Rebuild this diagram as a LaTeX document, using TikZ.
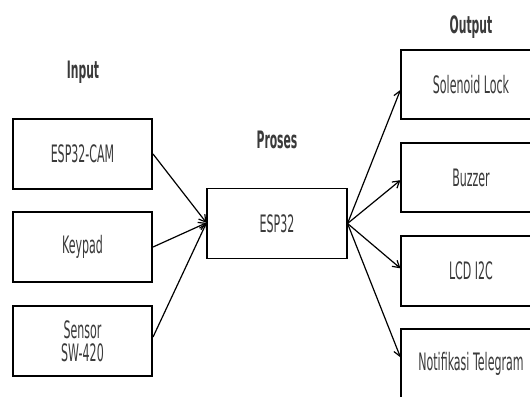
\documentclass[tikz,border=0pt]{standalone}
\usepackage{fontspec}
\setmainfont{DejaVu Sans}
\newfontfamily\boxfont[FakeStretch=0.46]{DejaVu Sans}
\newfontfamily\labfont[FakeStretch=0.45]{DejaVu Sans Bold}
\usetikzlibrary{arrows.meta}
\definecolor{txt}{HTML}{3A3A3A}
\tikzset{
  blk/.style={draw=black, line width=1.3pt, fill=white, minimum width=104.5pt,
    minimum height=52.5pt, inner sep=0pt, align=center, text=txt,
    font=\boxfont\fontsize{18}{17.5}\selectfont},
  ttl/.style={anchor=base, text=txt, inner sep=0pt, font=\labfont\fontsize{18}{17.5}\selectfont},
  conn/.style={draw=black, line width=0.9pt, -{Straight Barb[length=5pt,width=6pt]}}
}
\begin{document}
\begin{tikzpicture}[x=0.75pt, y=-0.75pt]
\useasboundingbox (0,0) rectangle (530,396);
\clip (0,0) rectangle (530,396);
% titles
\node[ttl] (tin) at (83,78) {Input};
\node[ttl] (tpr) at (277,148) {Proses};
\node[ttl] (tout) at (471,33) {Output};
% input boxes
\node[blk] (cam) at (82.5,154) {ESP32-CAM};
\node[blk] (key) at (82.5,247) {Keypad};
\node[blk] (sen) at (82.5,341) {Sensor\\SW-420};
% process
\node[blk] (esp) at (277,223.5) {ESP32};
% outputs
\node[blk, minimum height=51.75pt] (sol) at (471,84.5) {Solenoid Lock};
\node[blk, minimum height=51.75pt] (buz) at (471,177.5) {Buzzer};
\node[blk] (lcd) at (471,271) {LCD I2C};
\node[blk] (tel) at (471,364) {Notifikasi Telegram};
% connectors
\draw[conn] (cam.east) -- ([yshift=0.5pt]esp.west);
\draw[conn] (key.east) -- ([yshift=0.5pt]esp.west);
\draw[conn] ([yshift=3pt]sen.east) -- ([yshift=0.5pt]esp.west);
\draw[conn] (esp.east) -- ([yshift=-4pt]sol.west);
\draw[conn] (esp.east) -- ([yshift=-2pt]buz.west);
\draw[conn] (esp.east) -- ([yshift=2pt]lcd.west);
\draw[conn] (esp.east) -- ([yshift=5pt]tel.west);
\end{tikzpicture}
\end{document}
